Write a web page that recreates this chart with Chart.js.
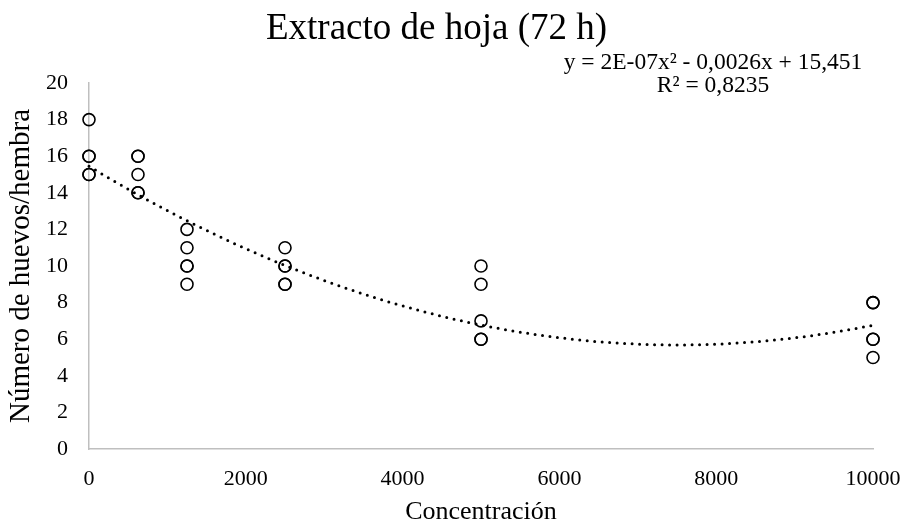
<!DOCTYPE html>
<html>
<head>
<meta charset="utf-8">
<script src="https://cdn.jsdelivr.net/npm/chart.js@4.4.1/dist/chart.umd.min.js"></script>
<style>
  html, body { margin: 0; padding: 0; background: #fff; }
  #wrap { width: 908px; height: 528px; }
</style>
</head>
<body>
<div id="wrap"><canvas id="chart" width="908" height="528"></canvas></div>
<script>
// Concentraciones ensayadas y huevos por hembra (5 réplicas por concentración)
const concentrations = [0, 625, 1250, 2500, 5000, 10000];
const eggsPerFemale = [
    [18, 16, 16, 15, 15],
    [16, 16, 15, 14, 14],
    [12, 11, 10, 10, 9],
    [11, 10, 10, 9, 9],
    [10, 9, 7, 6, 6],
    [8, 8, 6, 6, 5]
];
const xTicks = [0, 2000, 4000, 6000, 8000, 10000];
const yTicks = [0, 2, 4, 6, 8, 10, 12, 14, 16, 18, 20];
const equationLines = ['y = 2E-07x² - 0,0026x + 15,451', 'R² = 0,8235'];

const SERIF = '"Liberation Serif", "Times New Roman", Times, serif';

const points = [];
concentrations.forEach((c, i) => {
    eggsPerFemale[i].forEach(v => points.push({ x: c, y: v }));
});

// Least squares fit y = a*x^2 + b*x + c (same as the Excel polynomial trendline)
function polyFit2(pts) {
    let s = [0, 0, 0, 0, 0], t = [0, 0, 0];
    pts.forEach(p => {
        let xp = 1;
        for (let k = 0; k < 5; k++) {
            s[k] += xp;
            if (k < 3) t[k] += xp * p.y;
            xp *= p.x;
        }
    });
    // rows: [c, b, a]
    const m = [
        [s[0], s[1], s[2], t[0]],
        [s[1], s[2], s[3], t[1]],
        [s[2], s[3], s[4], t[2]]
    ];
    for (let i = 0; i < 3; i++) {
        for (let j = i + 1; j < 3; j++) {
            const f = m[j][i] / m[i][i];
            for (let k = i; k < 4; k++) m[j][k] -= f * m[i][k];
        }
    }
    const r = [0, 0, 0];
    for (let i = 2; i >= 0; i--) {
        let v = m[i][3];
        for (let k = i + 1; k < 3; k++) v -= m[i][k] * r[k];
        r[i] = v / m[i][i];
    }
    return { c: r[0], b: r[1], a: r[2] };
}

const fit = polyFit2(points);
const xMin = concentrations[0];
const xMax = concentrations[concentrations.length - 1];
const trend = [];
for (let i = 0; i <= 200; i++) {
    const x = xMin + (xMax - xMin) * i / 200;
    trend.push({ x: x, y: fit.a * x * x + fit.b * x + fit.c });
}

// Trendline equation box, top right
const equationPlugin = {
    id: 'equation',
    afterDraw(chart) {
        const ctx = chart.ctx;
        ctx.save();
        ctx.font = '23.5px ' + SERIF;
        ctx.fillStyle = '#000';
        ctx.textAlign = 'center';
        ctx.textBaseline = 'middle';
        ctx.fillText(equationLines[0], 713, 63);
        ctx.fillText(equationLines[1], 713, 86);
        ctx.restore();
    }
};

new Chart(document.getElementById('chart'), {
    type: 'scatter',
    data: {
        datasets: [{
            type: 'line',
            label: 'Polinómica',
            data: trend,
            borderColor: '#000',
            borderWidth: 3,
            borderDash: [0, 7.5],
            borderCapStyle: 'round',
            pointRadius: 0,
            fill: false,
            tension: 0,
            clip: false,
            order: 0
        }, {
            label: 'Huevos/hembra',
            data: points,
            pointStyle: 'circle',
            pointRadius: 6,
            pointBorderWidth: 1.6,
            pointBorderColor: '#000',
            pointBackgroundColor: 'rgba(0,0,0,0)',
            clip: false,
            order: 1
        }]
    },
    options: {
        responsive: false,
        animation: false,
        layout: { padding: { left: 0, right: 35, top: 0, bottom: 0 } },
        plugins: {
            legend: { display: false },
            tooltip: { enabled: false },
            title: {
                display: true,
                text: 'Extracto de hoja (72 h)',
                color: '#000',
                font: { family: SERIF, size: 37, weight: 'normal', lineHeight: 1.2 },
                padding: { top: 7, bottom: 31.6 }
            }
        },
        scales: {
            x: {
                type: 'linear',
                min: 0,
                max: 10000,
                afterBuildTicks: scale => { scale.ticks = xTicks.map(v => ({ value: v })); },
                afterFit: scale => {
                    scale.height = 79;
                    scale.paddingLeft = 0;
                    scale.paddingRight = 0;
                },
                grid: { display: false, drawTicks: false },
                border: { display: true, color: '#bfbfbf', width: 1.5 },
                ticks: {
                    color: '#000',
                    padding: 17,
                    maxRotation: 0,
                    font: { family: SERIF, size: 22 },
                    callback: v => String(v)
                },
                title: {
                    display: true,
                    text: 'Concentración',
                    color: '#000',
                    font: { family: SERIF, size: 26, lineHeight: 1.2 },
                    padding: { top: 0, bottom: 0 }
                }
            },
            y: {
                type: 'linear',
                min: 0,
                max: 20,
                afterBuildTicks: scale => { scale.ticks = yTicks.map(v => ({ value: v })); },
                afterFit: scale => { scale.width = 89; },
                grid: { display: false, drawTicks: false },
                border: { display: true, color: '#bfbfbf', width: 1.5 },
                ticks: {
                    color: '#000',
                    padding: 21,
                    font: { family: SERIF, size: 22 },
                    callback: v => String(v)
                },
                title: {
                    display: true,
                    text: 'Número de huevos/hembra',
                    color: '#000',
                    font: { family: SERIF, size: 29, lineHeight: 1.2 },
                    padding: { top: 4, bottom: 0 }
                }
            }
        }
    },
    plugins: [equationPlugin]
});
</script>
</body>
</html>
